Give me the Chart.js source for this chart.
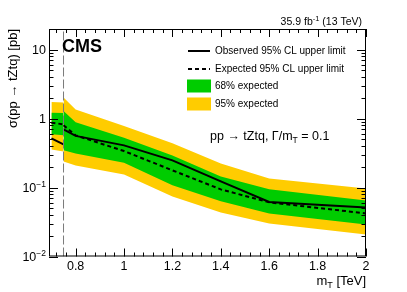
<!DOCTYPE html>
<html>
<head>
<meta charset="utf-8">
<script src="https://cdn.jsdelivr.net/npm/chart.js@4"></script>
<style>
  body { margin: 0; background: #fff; }
  canvas { display: block; }
</style>
</head>
<body>
<canvas id="limitChart" width="407" height="292"></canvas>
<script>
// mass points (TeV), split at the 0.75 TeV boundary
var massLow = [0.7, 0.75];
var massHigh = [0.75, 0.8, 1.0, 1.2, 1.4, 1.6, 2.0];

// limits in pb
var obsLow = [0.518, 0.424];
var expLow = [0.875, 0.827];
var up68Low = [1.22, 1.21];
var dn68Low = [0.592, 0.573];
var up95Low = [1.74, 1.71];
var dn95Low = [0.358, 0.335];

var obsHigh = [0.70, 0.563, 0.410, 0.248, 0.123, 0.0620, 0.0516];
var expHigh = [0.80, 0.573, 0.339, 0.178, 0.0942, 0.0610, 0.0422];
var up68High = [1.29, 0.884, 0.530, 0.293, 0.145, 0.0942, 0.0652];
var dn68High = [0.347, 0.313, 0.230, 0.108, 0.0631, 0.0422, 0.0292];
var up95High = [2.02, 1.36, 0.781, 0.438, 0.224, 0.136, 0.0973];
var dn95High = [0.240, 0.210, 0.155, 0.0745, 0.0436, 0.0302, 0.0209];

var boundaryMass = 0.75;

var xTicks = [0.8, 1.0, 1.2, 1.4, 1.6, 1.8, 2.0];
var xTickLabels = ['0.8', '1', '1.2', '1.4', '1.6', '1.8', '2'];
var yTicks = [0.01, 0.1, 1, 10];
var yTickLabels = [['10', '\u22122'], ['10', '\u22121'], ['1', ''], ['10', '']];

var FONT = "'Liberation Sans', Arial, Helvetica, sans-serif";
var GREEN = 'rgb(0,204,0)';
var YELLOW = 'rgb(255,204,0)';

function pts(xs, ys) {
  return xs.map(function (m, i) { return {x: m, y: ys[i]}; });
}

var segments = [
  {mass: massLow, obs: obsLow, exp: expLow, up68: up68Low, dn68: dn68Low, up95: up95Low, dn95: dn95Low},
  {mass: massHigh, obs: obsHigh, exp: expHigh, up68: up68High, dn68: dn68High, up95: up95High, dn95: dn95High}
];

var datasets = [];
datasets.push({
  data: [{x: boundaryMass, y: 0.01}, {x: boundaryMass, y: 20}],
  borderColor: '#7a7a7a', borderWidth: 1, borderDash: [9, 3], order: 0, fill: false
});
segments.forEach(function (s) {
  datasets.push({data: pts(s.mass, s.obs), borderColor: '#000', borderWidth: 2, order: 0, fill: false});
  datasets.push({data: pts(s.mass, s.exp), borderColor: '#000', borderWidth: 2, borderDash: [4, 3], order: 0, fill: false});
  datasets.push({data: pts(s.mass, s.up68), borderColor: 'rgba(0,0,0,0)', borderWidth: 1, backgroundColor: GREEN, fill: '+1', order: 1});
  datasets.push({data: pts(s.mass, s.dn68), borderColor: 'rgba(0,0,0,0)', borderWidth: 1, fill: false, order: 1});
  datasets.push({data: pts(s.mass, s.up95), borderColor: 'rgba(0,0,0,0)', borderWidth: 1, backgroundColor: YELLOW, fill: '+1', order: 2});
  datasets.push({data: pts(s.mass, s.dn95), borderColor: 'rgba(0,0,0,0)', borderWidth: 1, fill: false, order: 2});
});

function textWithScript(ctx, parts, xRight, baseline) {
  // parts: [text, size, dy]
  var total = 0;
  parts.forEach(function (p) { ctx.font = p[1] + 'px ' + FONT; total += ctx.measureText(p[0]).width; });
  var x = xRight - total;
  ctx.textAlign = 'left';
  parts.forEach(function (p) {
    ctx.font = p[1] + 'px ' + FONT;
    ctx.fillText(p[0], x, baseline + p[2]);
    x += ctx.measureText(p[0]).width;
  });
}

var rootFrame = {
  id: 'rootFrame',
  afterDatasetsDraw: function (chart) {
    var ctx = chart.ctx, a = chart.chartArea, x = chart.scales.x, y = chart.scales.y;
    ctx.save();
    ctx.strokeStyle = '#000';
    ctx.lineWidth = 1;
    ctx.strokeRect(a.left + 0.5, a.top + 0.5, a.right - a.left - 1, a.bottom - a.top - 1);

    ctx.beginPath();
    for (var i = 18; i <= 50; i++) {
      var px = Math.round(x.getPixelForValue(i * 0.04)) + 0.5;
      var len = (i % 5 === 0) ? 8 : 4;
      ctx.moveTo(px, a.bottom); ctx.lineTo(px, a.bottom - len);
      ctx.moveTo(px, a.top); ctx.lineTo(px, a.top + len);
    }
    for (var e = -2; e <= 1; e++) {
      for (var m = 1; m <= 9; m++) {
        var v = m * Math.pow(10, e);
        if (v > 20.001) continue;
        var py = Math.round(y.getPixelForValue(v)) + 0.5;
        var l = (m === 1) ? 9 : 4.5;
        ctx.moveTo(a.left, py); ctx.lineTo(a.left + l, py);
        ctx.moveTo(a.right, py); ctx.lineTo(a.right - l, py);
      }
    }
    ctx.stroke();

    ctx.fillStyle = '#000';
    ctx.textBaseline = 'alphabetic';

    // x tick labels
    ctx.font = '12.5px ' + FONT;
    ctx.textAlign = 'center';
    xTicks.forEach(function (v, k) {
      ctx.fillText(xTickLabels[k], x.getPixelForValue(v), a.bottom + 13);
    });

    // y tick labels
    yTicks.forEach(function (v, k) {
      var py = y.getPixelForValue(v);
      var lab = yTickLabels[k];
      textWithScript(ctx, [[lab[0], 12.5, 0], [lab[1], 8.5, -5]], a.left - 3, py + 4.5);
    });

    // axis titles
    textWithScript(ctx, [['m', 13, 0], ['T', 9, 2.5], [' [TeV]', 13, 0]], a.right, 285);
    ctx.save();
    ctx.translate(17, a.top);
    ctx.rotate(-Math.PI / 2);
    ctx.font = '13px ' + FONT;
    ctx.textAlign = 'right';
    ctx.fillText('\u03c3(pp \u2192 tZtq) [pb]', 0, 0);
    ctx.restore();

    textWithScript(ctx, [['35.9 fb', 10.5, 0], ['-1', 7.5, -4], [' (13 TeV)', 10.5, 0]], 362, 24.5);

    ctx.font = 'bold 18px ' + FONT;
    ctx.textAlign = 'left';
    ctx.fillText('CMS', 62, 52);

    // legend
    ctx.lineWidth = 2;
    ctx.beginPath(); ctx.moveTo(188, 51); ctx.lineTo(210, 51); ctx.stroke();
    ctx.setLineDash([4, 3]);
    ctx.beginPath(); ctx.moveTo(188, 69); ctx.lineTo(210, 69); ctx.stroke();
    ctx.setLineDash([]);
    ctx.fillStyle = GREEN; ctx.fillRect(187, 79.5, 24, 13);
    ctx.fillStyle = YELLOW; ctx.fillRect(187, 97.5, 24, 13);
    ctx.fillStyle = '#000';
    ctx.font = '10px ' + FONT;
    ctx.textAlign = 'left';
    ctx.textBaseline = 'middle';
    ctx.fillText('Observed 95% CL upper limit', 215, 51);
    ctx.fillText('Expected 95% CL upper limit', 215, 69);
    ctx.fillText('68% expected', 215, 86.5);
    ctx.fillText('95% expected', 215, 104.5);
    ctx.textBaseline = 'alphabetic';

    var ann = [['pp \u2192 tZtq, \u0393/m', 12.5, 0], ['T', 8.5, 2.5], [' = 0.1', 12.5, 0]];
    var w = 0;
    ann.forEach(function (p) { ctx.font = p[1] + 'px ' + FONT; w += ctx.measureText(p[0]).width; });
    textWithScript(ctx, ann, 210 + w, 140);
    ctx.restore();
  }
};

var ctx = document.getElementById('limitChart');
var limitChart = new Chart(ctx, {
  type: 'line',
  data: {datasets: datasets},
  options: {
    responsive: false,
    animation: false,
    devicePixelRatio: 1,
    layout: {padding: {left: 0, right: 41, top: 29, bottom: 0}},
    elements: {point: {radius: 0}, line: {tension: 0}},
    plugins: {legend: {display: false}, tooltip: {enabled: false}},
    scales: {
      x: {
        type: 'linear', min: 0.69, max: 2.0,
        grid: {display: false}, border: {display: false},
        afterBuildTicks: function (s) { s.ticks = xTicks.map(function (v) { return {value: v}; }); },
        afterFit: function (s) { s.height = 35.5; },
        ticks: {display: false}
      },
      y: {
        type: 'logarithmic', min: 0.01, max: 20,
        grid: {display: false}, border: {display: false},
        ticks: {display: false},
        afterFit: function (s) { s.width = 49; }
      }
    }
  },
  plugins: [rootFrame]
});
</script>
</body>
</html>
